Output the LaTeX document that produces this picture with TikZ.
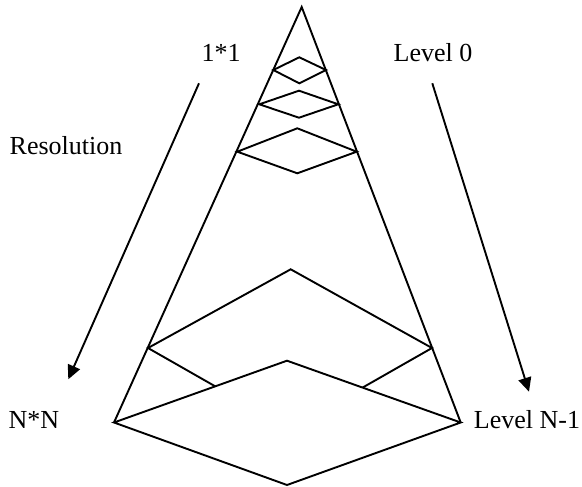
\documentclass[tikz,border=0pt]{standalone}
\usepackage{fontspec}
\setmainfont{Liberation Serif}
\usetikzlibrary{arrows.meta}
\begin{document}
\begin{tikzpicture}[x=1pt,y=-1pt,
  shape line/.style={line width=1.9pt,line join=miter},
  label text/.style={inner sep=0pt,font=\fontsize{26}{30}\selectfont},
  pointer/.style={line width=1.9pt,-{Triangle[length=14pt,width=13pt]}}]
\useasboundingbox (0,0) rectangle (582,487);
% cone
\coordinate (apex) at (301.7,7);
\coordinate (bl) at (114,422.5);
\coordinate (br) at (460.7,422.5);
\draw[shape line] (bl) -- (apex) -- (br);
% small diamonds
\draw[shape line] (273.3,70) -- (299.3,57.3) -- (326,70) -- (299.3,83.3) -- cycle;
\draw[shape line] (259.3,104.3) -- (299,90.7) -- (338.3,104.3) -- (299,117.7) -- cycle;
\draw[shape line] (237.3,151.7) -- (297.3,128.3) -- (356.7,151.7) -- (297.3,173.3) -- cycle;
% middle diamond
\draw[shape line] (148,348) -- (290.7,269.3) -- (432,348) -- (290,429) -- cycle;
% bottom diamond
\draw[shape line,fill=white] (bl) -- (287,360.7) -- (br) -- (287,485) -- cycle;
% labels
\node[label text] (one) at (221,53) {1*1};
\node[label text] (res) at (66,146) {Resolution};
\node[label text] (nn) at (34,420) {N*N};
\node[label text] (lv0) at (433,53) {Level 0};
\node[label text] (lvn) at (527,420) {Level N-1};
% arrows
\coordinate (la) at (199,83.3);
\coordinate (lb) at (68.3,379.3);
\coordinate (ra) at (432.3,83.3);
\coordinate (rb) at (529,391.7);
\draw[pointer] (la) -- (lb);
\draw[pointer] (ra) -- (rb);
\end{tikzpicture}
\end{document}
